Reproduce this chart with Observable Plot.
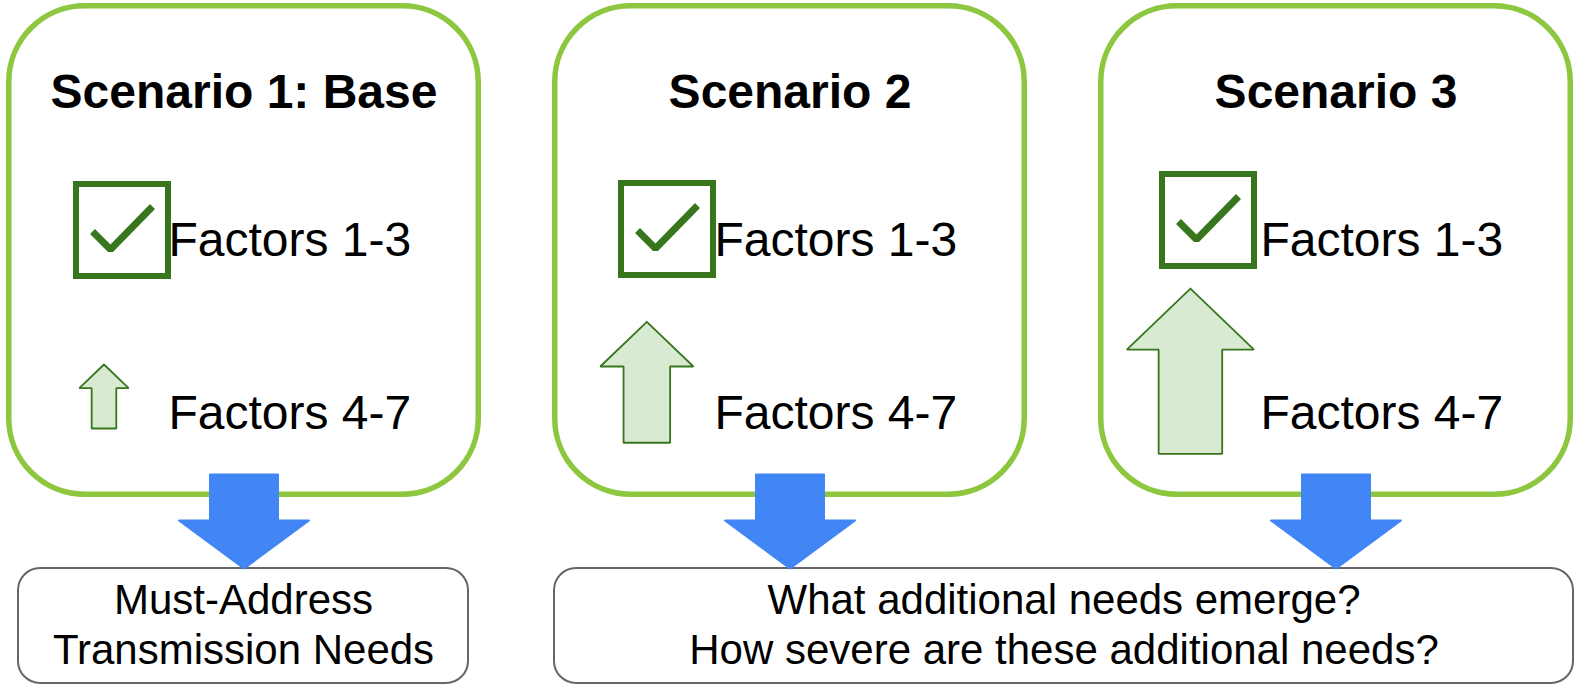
<!DOCTYPE html>
<html><head><meta charset="utf-8">
<script src="https://cdn.jsdelivr.net/npm/d3@7"></script>
<script src="https://cdn.jsdelivr.net/npm/@observablehq/plot@0.6"></script>
<style>html,body{margin:0;padding:0;background:#fff;} svg{display:block;}</style>
</head><body><div id="chart"></div>
<script>
// ---- data ----
const scenarios = ["Scenario 1: Base", "Scenario 2", "Scenario 3"];
const metFactors = ["Factors 1-3", "Factors 1-3", "Factors 1-3"];
const risingFactors = ["Factors 4-7", "Factors 4-7", "Factors 4-7"];
const growth = [1, 1.89, 2.58];          // relative size of the increase in factors 4-7
const outcomes = [
  ["Must-Address", "Transmission Needs"],
  ["What additional needs emerge?", "How severe are these additional needs?"]
];
const outcomeScenarios = [[0, 0], [1, 2]]; // first / last scenario each outcome covers

// ---- layout ----
const W = 1579, H = 688;
const L = {
  panelLeft0: 6, panelW: 475, panelGap: 71, panelTop: 3, panelBottom: 497, panelStroke: 5.5, panelR: 76,
  titleY: 107, met: 255, rise: 428, labelDx: 162,
  boxDx: [67, 66, 61], boxTop: [181, 180, 171], boxSize: 98, boxStroke: 6,
  arrowUnit: 64,
  outTop: 568, outBottom: 683, outR: 22,
  blueTop: 474, blueHead: 520, blueTip: 568, blueShaft: 34, blueHalf: 65
};
const panelLeft = i => L.panelLeft0 + i * (L.panelW + L.panelGap);
const panelCenter = i => panelLeft(i) + L.panelW / 2;

const panels = scenarios.map((s, i) => ({
  name: s,
  x1: panelLeft(i) + L.panelStroke / 2, x2: panelLeft(i) + L.panelW - L.panelStroke / 2,
  y1: L.panelTop + L.panelStroke / 2, y2: L.panelBottom - L.panelStroke / 2,
  cx: panelCenter(i)
}));

const boxes = scenarios.map((s, i) => {
  const bx = panelLeft(i) + L.boxDx[i], by = L.boxTop[i], h = L.boxStroke / 2;
  return {x1: bx + h, x2: bx + L.boxSize - h, y1: by + h, y2: by + L.boxSize - h, bx, by};
});
const checks = [];
boxes.forEach((b, i) => {
  [[19, 50], [37, 68], [79, 25]].forEach(([dx, dy]) => checks.push({id: i, x: b.bx + dx, y: b.by + dy}));
});

const upArrows = [];
growth.forEach((g, i) => {
  const h = g * L.arrowUnit;
  const hw = 0.385 * h, sw = hw / 2, hh = 0.48 * (2 * hw);
  const cx = panelLeft(i) + 101 - h * 0.055;
  const cy = 412 - h * 0.25;
  const top = cy - h / 2, bot = cy + h / 2, headY = top + hh;
  [[cx, top], [cx + hw, headY], [cx + sw, headY], [cx + sw, bot], [cx - sw, bot], [cx - sw, headY], [cx - hw, headY], [cx, top]]
    .forEach(([x, y]) => upArrows.push({id: i, x, y}));
});

const downArrows = [];
scenarios.forEach((s, i) => {
  const cx = panelCenter(i);
  [[cx - L.blueShaft, L.blueTop], [cx + L.blueShaft, L.blueTop], [cx + L.blueShaft, L.blueHead], [cx + L.blueHalf, L.blueHead],
   [cx, L.blueTip], [cx - L.blueHalf, L.blueHead], [cx - L.blueShaft, L.blueHead], [cx - L.blueShaft, L.blueTop]]
    .forEach(([x, y]) => downArrows.push({id: i, x, y}));
});

const outBoxes = outcomes.map((o, k) => {
  const [a, b] = outcomeScenarios[k];
  const x1 = k === 0 ? panelLeft(a) + 12 : panelLeft(a) + 2;
  const x2 = panelLeft(b) + L.panelW - (k === 0 ? 13 : 0);
  return {x1, x2, y1: L.outTop, y2: L.outBottom, cx: (x1 + x2) / 2};
});
const outTexts = [];
outcomes.forEach((lines, k) => lines.forEach((t, j) => outTexts.push({text: t, x: outBoxes[k].cx, y: 613 + j * 50})));

const font = "'Liberation Sans', Arial, Helvetica, sans-serif";
const chart = Plot.plot({
  width: W, height: H, margin: 0,
  x: {domain: [0, W], range: [0, W], axis: null},
  y: {domain: [0, H], range: [0, H], axis: null},
  style: {fontFamily: font, background: "white"},
  marks: [
    Plot.rect(panels, {x1: "x1", x2: "x2", y1: "y1", y2: "y2", rx: L.panelR, fill: "white", stroke: "#8dc63f", strokeWidth: L.panelStroke}),
    Plot.text(panels, {x: "cx", y: () => L.titleY, text: "name", fontSize: 48, fontWeight: "bold", fill: "black", lineAnchor: "bottom", textAnchor: "middle"}),
    Plot.rect(boxes, {x1: "x1", x2: "x2", y1: "y1", y2: "y2", fill: "white", stroke: "#38761d", strokeWidth: L.boxStroke}),
    Plot.line(checks, {x: "x", y: "y", z: "id", stroke: "#38761d", strokeWidth: 7, strokeLinejoin: "miter", strokeLinecap: "butt", curve: "linear"}),
    Plot.text(metFactors, {x: (d, i) => panelLeft(i) + L.labelDx, y: () => L.met, text: d => d, fontSize: 48, fill: "black", textAnchor: "start", lineAnchor: "bottom"}),
    Plot.line(upArrows, {x: "x", y: "y", z: "id", fill: "#d9ead3", stroke: "#38761d", strokeWidth: 1.8, strokeLinejoin: "miter", curve: "linear"}),
    Plot.text(risingFactors, {x: (d, i) => panelLeft(i) + L.labelDx, y: () => L.rise, text: d => d, fontSize: 48, fill: "black", textAnchor: "start", lineAnchor: "bottom"}),
    Plot.rect(outBoxes, {x1: "x1", x2: "x2", y1: "y1", y2: "y2", rx: L.outR, fill: "white", stroke: "#666666", strokeWidth: 2}),
    Plot.text(outTexts, {x: "x", y: "y", text: "text", fontSize: 42, fill: "black", textAnchor: "middle", lineAnchor: "bottom"}),
    Plot.line(downArrows, {x: "x", y: "y", z: "id", fill: "#4285f4", stroke: "#4285f4", strokeWidth: 2, strokeLinejoin: "round", curve: "linear"})
  ]
});
document.getElementById("chart").appendChild(chart);
</script>
</body></html>
